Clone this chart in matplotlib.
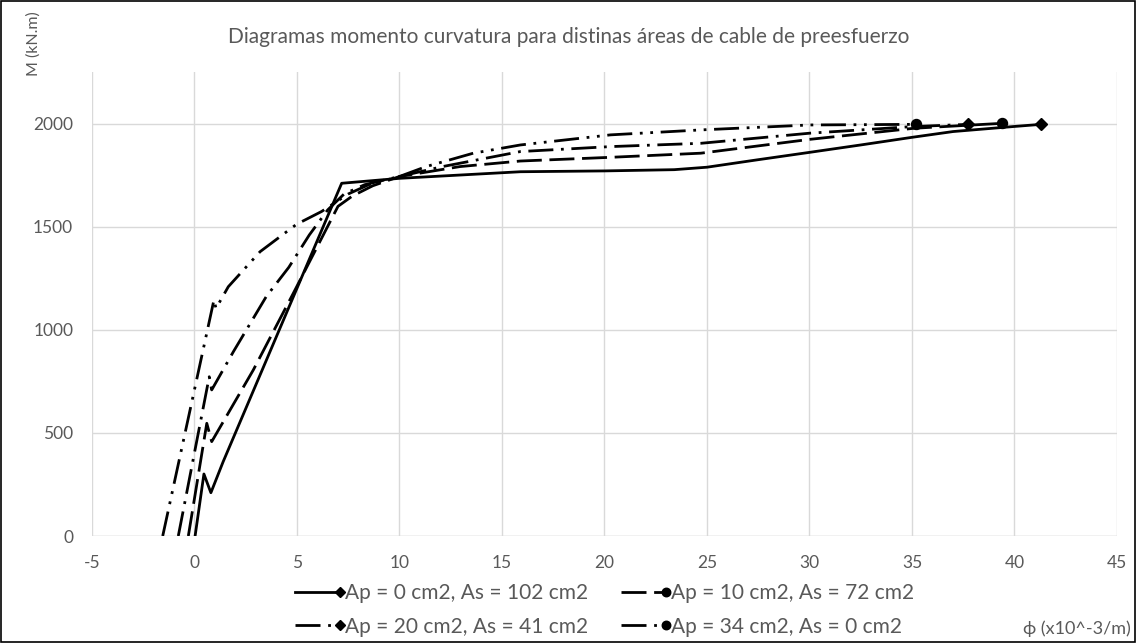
import matplotlib
matplotlib.use("Agg")
import matplotlib.pyplot as plt
from matplotlib.patches import Rectangle
from matplotlib.lines import Line2D
from matplotlib.legend_handler import HandlerLine2D

plt.rcParams['font.family'] = ['Lato', 'DejaVu Sans']
plt.rcParams['lines.scale_dashes'] = False
plt.rcParams['axes.unicode_minus'] = False

# curvature (x10^-3/m) and moment (kN.m)
phi_0 = [0.03, 0.46, 0.8, 1.4, 7.18, 10, 15.9, 20, 23.4, 25, 27.4, 30, 32.5, 35, 37, 39.9, 41.3]
M_0 = [0, 301, 210, 361, 1712, 1736, 1768, 1772, 1778, 1790, 1825, 1862, 1898, 1935, 1963, 1987, 1998]

phi_10 = [-0.3, 0.6, 0.84, 2.87, 4.82, 7.0, 7.7, 8.7, 10, 12.95, 15.9, 20.3, 24.7, 30, 35.1, 39.4]
M_10 = [0, 547, 458, 806, 1178, 1600, 1650, 1700, 1745, 1793, 1820, 1838, 1858, 1925, 1979, 2003]

phi_20 = [-0.79, 0.72, 0.84, 1.9, 3.5, 4.6, 5.6, 6.5, 7.3, 8.3, 10, 12.1, 15.9, 20.3, 24.7, 30, 35, 37.75]
M_20 = [0, 773, 709, 895, 1162, 1304, 1461, 1583, 1660, 1705, 1745, 1793, 1866, 1890, 1906, 1955, 1987, 1998]

phi_34 = [-1.55, 0.95, 1.05, 1.65, 3.2, 4.98, 6.2, 7.5, 8.5, 10, 11.3, 13.6, 15.9, 20.3, 24.7, 30, 35.2]
M_34 = [0, 1146, 1105, 1210, 1380, 1513, 1575, 1660, 1705, 1745, 1793, 1858, 1898, 1947, 1971, 1995, 1998]

labels = ['Ap = 0 cm2, As = 102 cm2', 'Ap = 10 cm2, As = 72 cm2',
          'Ap = 20 cm2, As = 41 cm2', 'Ap = 34 cm2, As = 0 cm2']

series = [(phi_0, M_0, '-', 'D'),
          (phi_10, M_10, (0, (18, 5.5)), 'o'),
          (phi_20, M_20, (0, (18, 5.5, 2, 5.5)), 'D'),
          (phi_34, M_34, (0, (18, 5.5, 2, 5.5, 2, 5.5)), 'o')]


class EndMarkerHandler(HandlerLine2D):
    # legend marker at the right end of the sample line, as Excel draws it
    def create_artists(self, legend, orig_handle, xdescent, ydescent,
                       width, height, fontsize, trans):
        arts = super().create_artists(legend, orig_handle, xdescent, ydescent,
                                      width, height, fontsize, trans)
        for a in arts:
            a.set_markevery([-1])
        return arts


fig = plt.figure(figsize=(11.37, 6.43), dpi=100)
ax = fig.add_axes([0.0809, 0.1664, 0.9015, 0.7216])

handles = []
for (x, y, ls, mk), lab in zip(series, labels):
    h, = ax.plot(x, y, color='black', lw=2.0, linestyle=ls,
                 marker=mk, markevery=[-1], markersize=6.5 if mk == 'D' else 7.2,
                 label=lab)
    handles.append(h)

ax.set_xlim(-5, 45)
ax.set_ylim(0, 2252)
ax.set_xticks(range(-5, 46, 5))
ax.set_yticks([0, 500, 1000, 1500, 2000])
ax.grid(True, color='#d9d9d9', lw=1)
ax.set_axisbelow(True)
for s in ax.spines.values():
    s.set_visible(False)
ax.axhline(0, color='#d9d9d9', lw=1, zorder=0)
ax.tick_params(length=0, labelsize=12.5, labelcolor='#595959', pad=13.5)

fig.text(0.5, 1 - 37 / 643, 'Diagramas momento curvatura para distinas áreas de cable de preesfuerzo',
         ha='center', va='center', fontsize=15, color='#595959')
fig.text(34 / 1137, 1 - 44 / 643, 'M (kN.m)', rotation=90, ha='center', va='center',
         fontsize=11.5, color='#595959')
fig.text(1131 / 1137, 1 - 629 / 643, 'ϕ (x10^-3/m)', ha='right', va='center',
         fontsize=13, color='#595959')

# Excel fills legend rows first
order = [0, 2, 1, 3]
fig.legend([handles[i] for i in order], [labels[i] for i in order],
           handler_map={Line2D: EndMarkerHandler()},
           loc='center', bbox_to_anchor=(604.5 / 1137, 1 - 610 / 643), ncol=2,
           frameon=False, fontsize=15, labelcolor='#595959', numpoints=1,
           markerscale=0.85, handlelength=2.15, handletextpad=0.25,
           columnspacing=1.6, labelspacing=0.65, borderpad=0)

fig.add_artist(Rectangle((0.001, 0.001), 0.997, 0.997, transform=fig.transFigure,
                         fill=False, edgecolor='black', lw=1.2))

fig.savefig('out.png', dpi=100)
